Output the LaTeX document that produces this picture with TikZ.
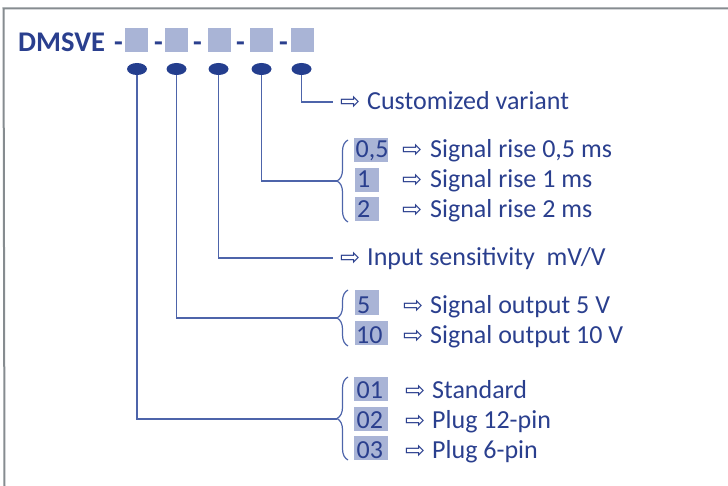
\documentclass[tikz,border=0pt]{standalone}
\usepackage{fontspec}
\setmainfont{Carlito}
\newfontfamily\arrowfont{DejaVu Sans}
\usetikzlibrary{shapes.geometric,decorations.pathreplacing}
\definecolor{txtblue}{HTML}{2A3F8E}
\definecolor{dotblue}{HTML}{243E8E}
\definecolor{lineblue}{HTML}{4D64AA}
\definecolor{hlblue}{HTML}{A9B4D6}
\definecolor{framegray}{HTML}{868C90}
\begin{document}
\begin{tikzpicture}[x=1pt,y=-1pt,
  txt/.style={text=txtblue, font=\fontsize{26}{30}\selectfont, inner sep=0pt, anchor=base west},
  ttl/.style={text=txtblue, font=\bfseries\fontsize{28.5}{32}\selectfont, inner sep=0pt, anchor=base west},
  arr/.style={text=txtblue, font=\arrowfont\fontsize{24}{28}\selectfont, inner sep=0pt, anchor=base west},
  hl/.style={fill=hlblue, inner sep=0pt, minimum height=24pt},
  sq/.style={fill=hlblue, inner sep=0pt, minimum width=23pt, minimum height=24pt},
  dot/.style={ellipse, fill=dotblue, inner sep=0pt, minimum width=20pt, minimum height=12pt},
  conn/.style={draw=lineblue, line width=1.4pt},
  brc/.style={draw=lineblue, line width=1.2pt, decorate, decoration={brace, amplitude=11pt}},
  frame/.style={draw=framegray, line width=2pt}
]
\useasboundingbox (0,0) rectangle (728,486);
% frame
\coordinate (fa) at (3.5,8.5);
\coordinate (fb) at (728,8.5);
\coordinate (fc) at (4.5,486);
\draw[frame] (fb) -- (fa) -- (fc);

% title
\node[ttl] (title) at (18,52) {DMSVE};
\node[ttl] (d1) at (114,52) {-};
\node[ttl] (d2) at (154,52) {-};
\node[ttl] (d3) at (193,52) {-};
\node[ttl] (d4) at (236,52) {-};
\node[ttl] (d5) at (279,52) {-};
\node[sq] (s1) at (136.5,40) {};
\node[sq] (s2) at (176.5,40) {};
\node[sq] (s3) at (219,40) {};
\node[sq] (s4) at (261.5,40) {};
\node[sq] (s5) at (302.5,40) {};

% dots
\node[dot] (e1) at (137,69) {};
\node[dot] (e2) at (176.5,69) {};
\node[dot] (e3) at (218.5,69) {};
\node[dot] (e4) at (261.5,69) {};
\node[dot] (e5) at (301.5,69) {};

% end points
\coordinate (c5) at (333,102);
\coordinate (c4) at (337,181);
\coordinate (c3) at (333,258);
\coordinate (c2) at (337,318);
\coordinate (c1) at (337,419);

\draw[conn] (e5) |- (c5);
\draw[conn] (e4) |- (c4);
\draw[conn] (e3) |- (c3);
\draw[conn] (e2) |- (c2);
\draw[conn] (e1) |- (c1);

% braces
\coordinate (b4t) at (348,140);
\coordinate (b4b) at (348,222);
\coordinate (b2t) at (348,290);
\coordinate (b2b) at (348,346);
\coordinate (b1t) at (348,377);
\coordinate (b1b) at (348,460);
\draw[brc] (b4b) -- (b4t);
\draw[brc] (b2b) -- (b2t);
\draw[brc] (b1b) -- (b1t);

% customized
\node[arr] (a5) at (340,110) {⇨};
\node[txt] (t5) at (367,110) {Customized variant};

% signal rise
\node[hl, minimum width=34pt] (h41) at (371,150.5) {};
\node[hl, minimum width=24pt] (h42) at (367,180) {};
\node[hl, minimum width=24pt] (h43) at (367,209) {};
\node[txt] (k41) at (355.5,158) {0,5};
\node[txt] (k42) at (357,188) {1};
\node[txt] (k43) at (357,218) {2};
\node[arr] (a41) at (402,158) {⇨};
\node[arr] (a42) at (402,188) {⇨};
\node[arr] (a43) at (402,218) {⇨};
\node[txt] (t41) at (430,158) {Signal rise 0,5 ms};
\node[txt] (t42) at (430,188) {Signal rise 1 ms};
\node[txt] (t43) at (430,218) {Signal rise 2 ms};

% input sensitivity
\node[arr] (a3) at (340,266) {⇨};
\node[txt] (t3) at (367,266) {Input sensitivity\ \ mV/V};

% signal output
\node[hl, minimum width=24pt] (h21) at (367,302.5) {};
\node[hl, minimum width=33pt] (h22) at (371.5,333) {};
\node[txt] (k21) at (357,313) {5};
\node[txt] (k22) at (356,343) {10};
\node[arr] (a21) at (403,313) {⇨};
\node[arr] (a22) at (403,343) {⇨};
\node[txt] (t21) at (430,313) {Signal output 5 V};
\node[txt] (t22) at (430,343) {Signal output 10 V};

% plug
\node[hl, minimum width=34pt] (h11) at (371,388.5) {};
\node[hl, minimum width=34pt] (h12) at (371,418.5) {};
\node[hl, minimum width=34pt] (h13) at (371,448) {};
\node[txt] (k11) at (356.5,398) {01};
\node[txt] (k12) at (356.5,428) {02};
\node[txt] (k13) at (356.5,458) {03};
\node[arr] (a11) at (405,398) {⇨};
\node[arr] (a12) at (405,428) {⇨};
\node[arr] (a13) at (405,458) {⇨};
\node[txt] (t11) at (432,398) {Standard};
\node[txt] (t12) at (432,428) {Plug 12-pin};
\node[txt] (t13) at (432,458) {Plug 6-pin};
\end{tikzpicture}
\end{document}
